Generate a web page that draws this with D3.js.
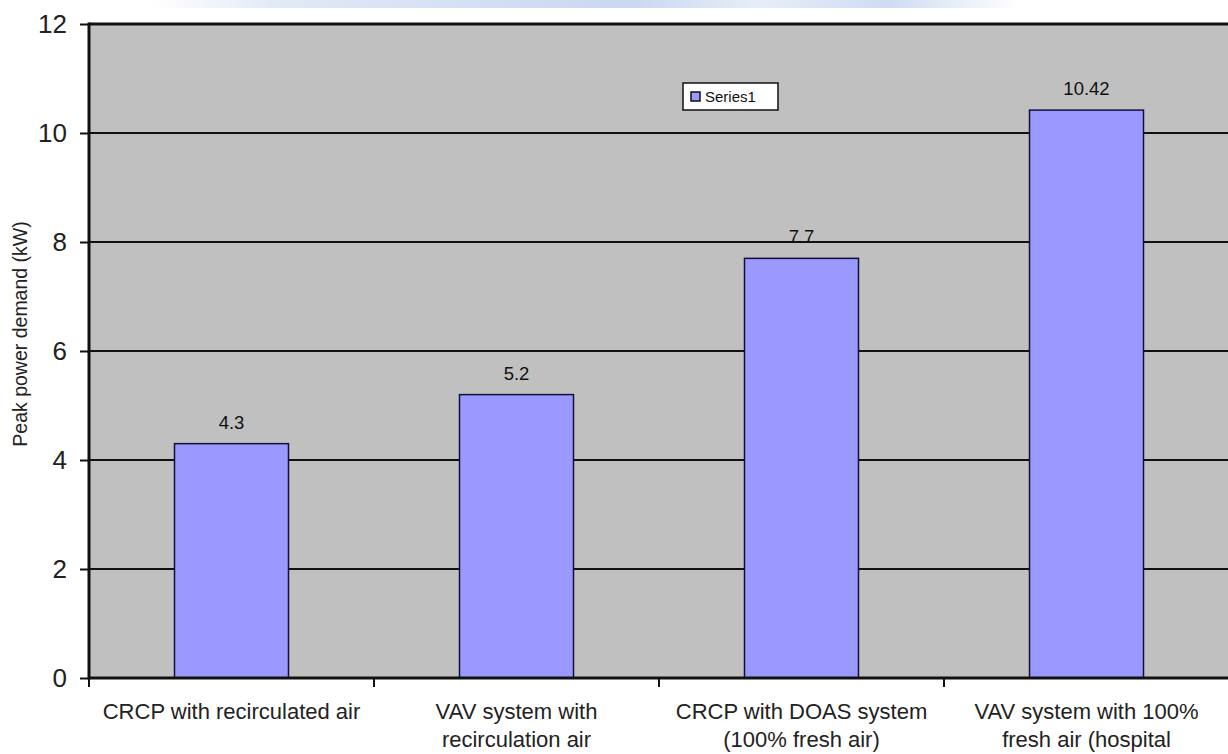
<!DOCTYPE html>
<html>
<head>
<meta charset="utf-8">
<script src="https://cdn.jsdelivr.net/npm/d3@7"></script>
<style>
  body { margin: 0; background: #fff; }
  svg { display: block; font-family: Arial, "Liberation Sans", sans-serif; }
</style>
</head>
<body>
<svg id="chart"></svg>
<script>
const categories = [
    ["CRCP with recirculated air"],
    ["VAV system with", "recirculation air"],
    ["CRCP with DOAS system", "(100% fresh air)"],
    ["VAV system with 100%", "fresh air (hospital"]
];
const values = [4.3, 5.2, 7.7, 10.42];
const yTicks = [0, 2, 4, 6, 8, 10, 12];
const seriesName = "Series1";

const margin = { top: 24, right: -1, bottom: 76, left: 89 },
      width = 1228 - margin.left - margin.right,
      height = 754 - margin.top - margin.bottom;

const root = d3.select("#chart")
    .attr("width", 1228)
    .attr("height", 754);

// faint blue strip at the very top (scan artefact)
const grad = root.append("defs").append("linearGradient")
    .attr("id", "topglow");
grad.selectAll("stop")
    .data([[0, 0], [0.15, 0.5], [0.55, 0.9], [0.7, 0.4], [0.85, 0.8], [1, 0]])
    .join("stop")
    .attr("offset", d => d[0])
    .attr("stop-color", "#c3d3ee")
    .attr("stop-opacity", d => d[1]);
root.append("rect")
    .attr("x", 150).attr("y", 0)
    .attr("width", 870).attr("height", 8)
    .attr("fill", "url(#topglow)");

const svg = root.append("g")
    .attr("transform", `translate(${margin.left},${margin.top})`);

const x = d3.scaleBand()
    .domain(d3.range(categories.length))
    .range([0, width])
    .paddingInner(0.6)
    .paddingOuter(0.3);

const xb = d3.scaleBand()
    .domain(d3.range(categories.length))
    .range([0, width]);

const y = d3.scaleLinear()
    .domain([0, 12])
    .range([height, 0]);

svg.append("rect")
    .attr("width", width)
    .attr("height", height)
    .attr("fill", "#c0c0c0");

// gridlines
svg.selectAll(".grid")
    .data(yTicks)
    .join("line")
    .attr("x1", 0)
    .attr("x2", width)
    .attr("y1", d => y(d))
    .attr("y2", d => y(d))
    .attr("stroke", "#111")
    .attr("stroke-width", d => d === 12 ? 3 : 2);

svg.selectAll(".bar")
    .data(values)
    .join("rect")
    .attr("x", (d, i) => x(i))
    .attr("y", d => y(d))
    .attr("width", x.bandwidth())
    .attr("height", d => height - y(d))
    .attr("fill", "#9999ff")
    .attr("stroke", "#10103a")
    .attr("stroke-width", 1.5);

svg.selectAll(".val")
    .data(values)
    .join("text")
    .attr("x", (d, i) => x(i) + x.bandwidth() / 2)
    .attr("y", d => y(d) - 15)
    .attr("text-anchor", "middle")
    .attr("font-size", 18.5)
    .attr("fill", "#111")
    .text(d => d);

// y axis
const yAxis = svg.append("g")
    .call(d3.axisLeft(y).tickValues(yTicks).tickSize(9).tickPadding(13));
yAxis.select(".domain").remove();
yAxis.selectAll(".tick line").attr("stroke", "#111").attr("stroke-width", 2);
yAxis.selectAll(".tick text")
    .attr("font-size", 26)
    .attr("fill", "#222")
    .attr("font-family", "Arial, 'Liberation Sans', sans-serif");
svg.append("line")
    .attr("x1", 0).attr("x2", 0)
    .attr("y1", -1.5).attr("y2", height + 1.5)
    .attr("stroke", "#111").attr("stroke-width", 3);

// x axis
svg.append("line")
    .attr("x1", 0).attr("x2", width)
    .attr("y1", height).attr("y2", height)
    .attr("stroke", "#111").attr("stroke-width", 3);
svg.selectAll(".xtick")
    .data(d3.range(categories.length + 1))
    .join("line")
    .attr("x1", d => d * xb.step())
    .attr("x2", d => d * xb.step())
    .attr("y1", height)
    .attr("y2", height + 9)
    .attr("stroke", "#111")
    .attr("stroke-width", 2);

svg.selectAll(".xlab")
    .data(categories)
    .join("text")
    .attr("text-anchor", "middle")
    .attr("font-size", 22)
    .attr("fill", "#222")
    .attr("transform", (d, i) => `translate(${xb(i) + xb.bandwidth() / 2},${height + 41})`)
    .selectAll("tspan")
    .data(d => d)
    .join("tspan")
    .attr("x", 0)
    .attr("y", (d, i) => i * 28)
    .text(d => d);

// y axis title
svg.append("text")
    .attr("transform", `translate(${-62},${310}) rotate(-90)`)
    .attr("text-anchor", "middle")
    .attr("font-size", 19.5)
    .attr("fill", "#222")
    .text("Peak power demand (kW)");

// legend
const legend = svg.append("g")
    .attr("transform", `translate(${683 - margin.left},${83 - margin.top})`);
legend.append("rect")
    .attr("width", 95)
    .attr("height", 27)
    .attr("fill", "#fff")
    .attr("stroke", "#111")
    .attr("stroke-width", 1.5);
legend.append("rect")
    .attr("x", 8).attr("y", 9)
    .attr("width", 9).attr("height", 9)
    .attr("fill", "#9999ff")
    .attr("stroke", "#111")
    .attr("stroke-width", 1.5);
legend.append("text")
    .attr("x", 22).attr("y", 19)
    .attr("font-size", 15)
    .attr("fill", "#111")
    .text(seriesName);
</script>
</body>
</html>
